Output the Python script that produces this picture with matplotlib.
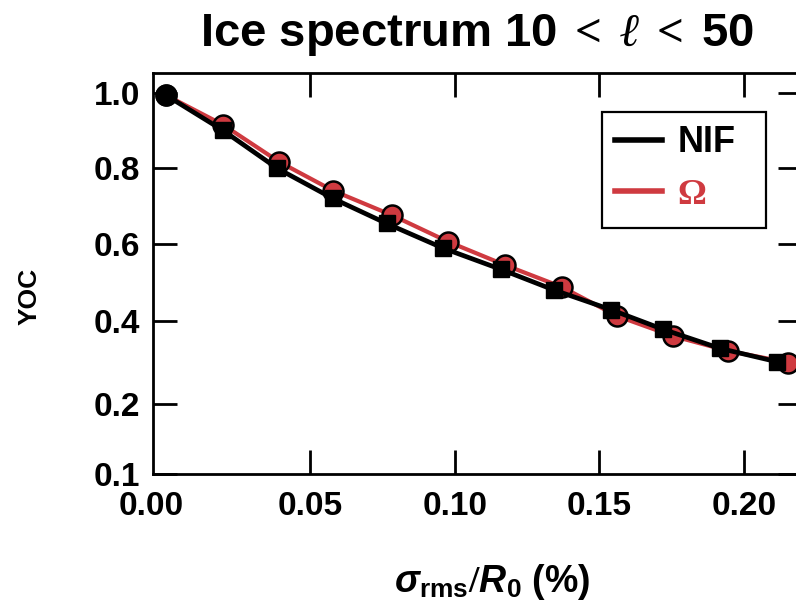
# Ice spectrum YOC vs sigma_rms/R0 chart
import numpy as np
import matplotlib
matplotlib.use("Agg")
import matplotlib.pyplot as plt
from matplotlib.lines import Line2D
from matplotlib.patches import Rectangle
from matplotlib.transforms import ScaledTranslation

# data
nif_x = [0.0, 0.0197, 0.0386, 0.0578, 0.0764, 0.0960, 0.1159, 0.1343, 0.1539, 0.1721, 0.1918, 0.2114]
nif_y = [0.994, 0.901, 0.800, 0.721, 0.655, 0.590, 0.535, 0.481, 0.430, 0.380, 0.334, 0.302]
omega_x = [0.0, 0.0199, 0.0393, 0.0580, 0.0782, 0.0977, 0.1174, 0.1370, 0.1562, 0.1754, 0.1946, 0.2154]
omega_y = [0.994, 0.915, 0.817, 0.741, 0.677, 0.607, 0.546, 0.489, 0.413, 0.364, 0.328, 0.300]

x_ticks = [0.00, 0.05, 0.10, 0.15, 0.20]
x_ticklabels = ["0.00", "0.05", "0.10", "0.15", "0.20"]
y_ticks = [0.1, 0.2, 0.4, 0.6, 0.8, 1.0]
y_ticklabels = ["0.1", "0.2", "0.4", "0.6", "0.8", "1.0"]

# the y axis of the original is not linear, so map tick values to positions
y_knots = [0.1, 0.2, 0.4, 0.6, 0.8, 1.0, 1.2]
y_pos = [0.0, 70.0, 153.0, 229.7, 305.7, 381.3, 456.9]


def fwd(v):
    return np.interp(v, y_knots, y_pos)


def inv(p):
    return np.interp(p, y_pos, y_knots)


red = "#cf3a40"

plt.rcParams['font.family'] = ['Liberation Sans', 'DejaVu Sans']
plt.rcParams['font.weight'] = 'bold'
plt.rcParams['axes.labelweight'] = 'bold'
plt.rcParams['mathtext.fontset'] = 'custom'
plt.rcParams['mathtext.rm'] = 'Liberation Serif'
plt.rcParams['mathtext.it'] = 'Liberation Serif:italic'
plt.rcParams['mathtext.bf'] = 'Liberation Sans:bold'
plt.rcParams['mathtext.sf'] = 'Liberation Sans:bold:italic'

fig = plt.figure(figsize=(7.96, 6.04), dpi=100)
ax = fig.add_axes([0.1918, 0.2152, 0.8152, 0.6644])

# Omega first, NIF on top
ax.plot(omega_x, omega_y, color=red, lw=3.0, marker='o', ms=14.4,
        mfc=red, mec='black', mew=1.8, zorder=2)
ax.plot(nif_x, nif_y, color='black', lw=3.4, marker='s', ms=12,
        markevery=list(range(1, len(nif_x))), zorder=3)
ax.plot(nif_x[:1], nif_y[:1], color='black', marker='o', ms=15, ls='none', zorder=4)

ax.set_yscale('function', functions=(fwd, inv))
ax.set_xlim(-0.0045, 0.2200)
ax.set_ylim(0.1, 1.053)

ax.set_xticks(x_ticks)
ax.set_xticklabels(x_ticklabels)
ax.set_yticks(y_ticks)
ax.set_yticklabels(y_ticklabels)
ax.minorticks_off()

ax.tick_params(direction='in', length=17, width=2, top=True, right=True,
               labelsize=24)
ax.tick_params(axis='x', pad=12)
ax.tick_params(axis='y', pad=9)
for sp in ax.spines.values():
    sp.set_linewidth(2)

# no tick mark at x = 0 in the original
t0 = ax.xaxis.get_major_ticks()[0]
t0.tick1line.set_visible(False)
t0.tick2line.set_visible(False)

# first x label sits a little left of its tick in the original
lab0 = ax.get_xticklabels()[0]
lab0.set_transform(lab0.get_transform() + ScaledTranslation(-14 / 100, 0, fig.dpi_scale_trans))

ax.set_title(r'Ice spectrum 10$\;<\;\ell\;<\;$50', fontsize=34, fontweight='bold', pad=19)

ax.set_xlabel(r'$\mathsf{\sigma}_{\mathbf{rms}}/\mathsf{R}_{\mathbf{0}}$ (%)', fontsize=27)
ax.xaxis.set_label_coords(0.523, -0.218)
ax.set_ylabel('YOC', fontsize=19)
ax.yaxis.set_label_coords(-0.1706, 0.4436)

# legend: entries without a frame, box drawn separately (wider on the right)
handles = [Line2D([], [], color='black', lw=4), Line2D([], [], color=red, lw=4)]
leg = ax.legend(handles, ['NIF', '\u03a9'], loc='upper left',
                bbox_to_anchor=(601.7 / 796, 1 - 111.7 / 604),
                bbox_transform=fig.transFigure, fontsize=26, frameon=False,
                handlelength=1.3, handletextpad=0.42,
                borderpad=0.38, labelspacing=0.5, borderaxespad=0)
txts = leg.get_texts()
txts[0].set_fontweight('bold')
txts[1].set_color(red)
txts[1].set_fontfamily('Liberation Serif')
txts[1].set_fontweight('bold')
fig.patches.append(Rectangle((601.7 / 796, 1 - 228 / 604), (766 - 601.7) / 796,
                             (228 - 111.7) / 604, transform=fig.transFigure,
                             fill=False, edgecolor='black', linewidth=1.6, zorder=5))

plt.savefig("out.png", dpi=100)
